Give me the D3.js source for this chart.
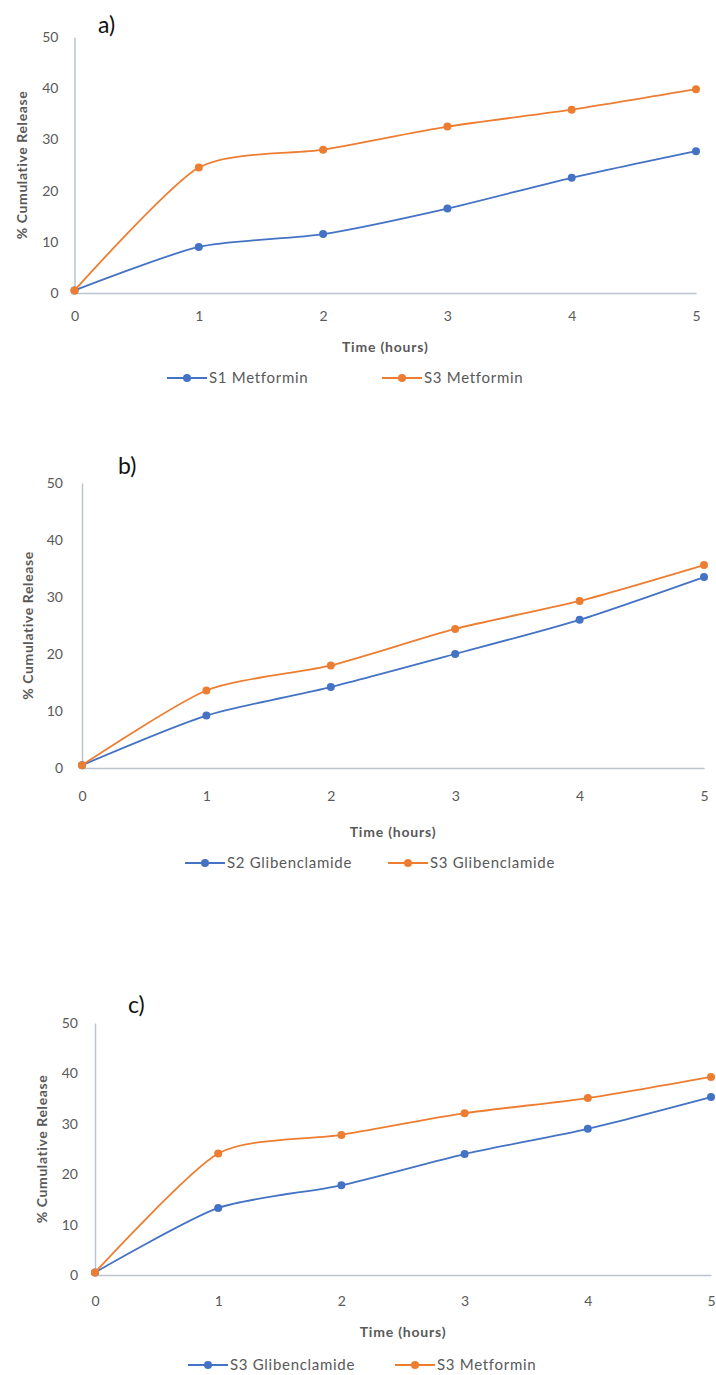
<!DOCTYPE html>
<html>
<head>
<meta charset="utf-8">
<script src="https://cdn.jsdelivr.net/npm/d3@7"></script>
<style>
  body { margin: 0; background: #fff; }
  text { font-family: Lato, "Open Sans", sans-serif; }
</style>
</head>
<body>
<script>
// values (% cumulative release per hour)
const hours = [0, 1, 2, 3, 4, 5];
const yTicks = [0, 10, 20, 30, 40, 50];

const s1Metformin = [0.5, 9.0, 11.5, 16.5, 22.5, 27.7];
const s3MetforminA = [0.5, 24.5, 28.0, 32.5, 35.8, 39.8];

const s2Glibenclamide = [0.5, 9.2, 14.2, 20.0, 26.0, 33.5];
const s3GlibenclamideB = [0.5, 13.6, 18.0, 24.4, 29.3, 35.6];

const s3GlibenclamideC = [0.5, 13.3, 17.8, 24.0, 29.0, 35.3];
const s3MetforminC = [0.5, 24.1, 27.8, 32.1, 35.1, 39.3];

const panelLabels = ['a)', 'b)', 'c)'];
const legendNames = [
    ['S1 Metformin', 'S3 Metformin'],
    ['S2 Glibenclamide', 'S3 Glibenclamide'],
    ['S3 Glibenclamide', 'S3 Metformin']
];
const seriesData = [
    [s1Metformin, s3MetforminA],
    [s2Glibenclamide, s3GlibenclamideB],
    [s3GlibenclamideC, s3MetforminC]
];

const colours = ['#4472C4', '#ED7D31'];
const axisColour = '#BCC4D0';
const textColour = '#595959';

// layout of each panel (pixels)
const layout = [
    { left: 74.5, right: 696, top: 37, bottom: 293, xPad: 18, yPad: 16,
      yTitleX: 22, xTitleY: 347, legendY: 378, legendX: [167, 382], labelX: 98, labelY: 33 },
    { left: 82, right: 704, top: 483, bottom: 768, xPad: 23, yPad: 19,
      yTitleX: 28, xTitleY: 832, legendY: 863, legendX: [185, 388], labelX: 118, labelY: 474 },
    { left: 95, right: 711, top: 1023, bottom: 1275, xPad: 21, yPad: 17,
      yTitleX: 42, xTitleY: 1332, legendY: 1365, legendX: [188, 395], labelX: 128, labelY: 1013 }
];

const svg = d3.select('body')
    .append('svg')
    .attr('width', 716)
    .attr('height', 1375);

const drawPanel = (p, i) => {
    const x = d3.scaleLinear().domain([0, 5]).range([p.left, p.right]);
    const y = d3.scaleLinear().domain([0, 50]).range([p.bottom, p.top]);

    const g = svg.append('g').attr('class', 'panel');

    // axes
    const yAxis = g.append('g')
        .attr('transform', `translate(${p.left}, 0)`)
        .call(d3.axisLeft(y).tickValues(yTicks).tickSize(0).tickPadding(p.yPad));
    const xAxis = g.append('g')
        .attr('transform', `translate(0, ${p.bottom})`)
        .call(d3.axisBottom(x).tickValues(hours).tickFormat(d3.format('d'))
            .tickSize(0).tickPadding(p.xPad));

    [yAxis, xAxis].forEach(ax => {
        ax.select('.domain').attr('stroke', axisColour).attr('stroke-width', 1.5);
        ax.selectAll('text')
            .attr('fill', textColour)
            .style('font-size', '14px');
    });

    // axis titles
    g.append('text')
        .attr('transform', `translate(${p.yTitleX}, ${(p.top + p.bottom) / 2}) rotate(-90)`)
        .attr('text-anchor', 'middle')
        .attr('dy', '0.35em')
        .attr('fill', textColour)
        .style('font-size', '14px')
        .style('font-weight', 'bold')
        .style('letter-spacing', '0.6px')
        .text('% Cumulative Release');

    g.append('text')
        .attr('x', (p.left + p.right) / 2)
        .attr('y', p.xTitleY)
        .attr('text-anchor', 'middle')
        .attr('dy', '0.35em')
        .attr('fill', textColour)
        .style('font-size', '14px')
        .style('font-weight', 'bold')
        .style('letter-spacing', '0.8px')
        .text('Time  (hours)');

    // panel label
    g.append('text')
        .attr('x', p.labelX)
        .attr('y', p.labelY)
        .attr('fill', '#111')
        .style('font-size', '23px')
        .text(panelLabels[i]);

    // series
    const line = d3.line()
        .x((d, j) => x(hours[j]))
        .y(d => y(d))
        .curve(d3.curveCardinal.tension(0.3));

    seriesData[i].forEach((vals, k) => {
        g.append('path')
            .datum(vals)
            .attr('fill', 'none')
            .attr('stroke', colours[k])
            .attr('stroke-width', 1.8)
            .attr('d', line);

        g.selectAll(`.pt${k}`)
            .data(vals)
            .enter()
            .append('circle')
            .attr('class', `pt${k}`)
            .attr('cx', (d, j) => x(hours[j]))
            .attr('cy', d => y(d))
            .attr('r', 4)
            .attr('fill', colours[k]);
    });

    // legend
    legendNames[i].forEach((name, k) => {
        const lx = p.legendX[k];
        const lg = g.append('g').attr('transform', `translate(${lx}, ${p.legendY})`);
        lg.append('line')
            .attr('x1', 0).attr('x2', 40)
            .attr('stroke', colours[k])
            .attr('stroke-width', 1.8);
        lg.append('circle')
            .attr('cx', 20)
            .attr('r', 4)
            .attr('fill', colours[k]);
        lg.append('text')
            .attr('x', 42)
            .attr('dy', '0.35em')
            .attr('fill', textColour)
            .style('font-size', '15px')
            .style('letter-spacing', '0.7px')
            .text(name);
    });
};

layout.forEach(drawPanel);
</script>
</body>
</html>
